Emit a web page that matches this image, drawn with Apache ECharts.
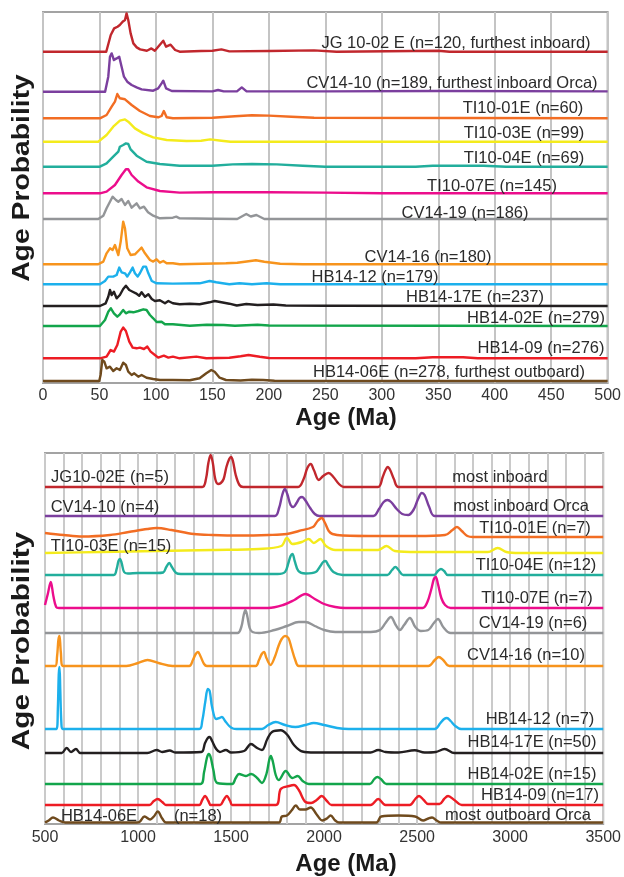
<!DOCTYPE html>
<html>
<head>
<meta charset="utf-8">
<script src="https://cdn.jsdelivr.net/npm/echarts@6/dist/echarts.min.js"></script>
<style>
html,body{margin:0;padding:0;background:#fff;}
#chart{width:624px;height:877px;}
</style>
</head>
<body>
<div id="chart"></div>
<script>
// ---------------- DATA ----------------
// Upper panel (0-500 Ma), relative probability (arbitrary units), [age, value]
const topNames = [
  "JG 10-02 E (n=120, furthest inboard)",
  "CV14-10 (n=189, furthest inboard Orca)",
  "TI10-01E (n=60)",
  "TI10-03E (n=99)",
  "TI10-04E (n=69)",
  "TI10-07E (n=145)",
  "CV14-19 (n=186)",
  "CV14-16 (n=180)",
  "HB14-12 (n=179)",
  "HB14-17E (n=237)",
  "HB14-02E (n=279)",
  "HB14-09 (n=276)",
  "HB14-06E (n=278, furthest outboard)"
];
// vertical stacking offsets (same arbitrary units)
const topOffsets = [331.3, 291.3, 264.7, 241.3, 216.3, 189.7, 164, 118.7, 98.7, 77, 57, 24.7, 2];

const topJG1002E = [[0,0],[56,0],[60,16.7],[63,23.3],[66,25],[68,26.7],[70.5,30],[72.6,31.7],[74,38.3],[75.5,31.7],[77.6,18.3],[80,8.3],[83,4.3],[86,2.3],[92,1],[96,3.3],[99,1],[102,5],[106.5,11],[109,5],[113,7],[117,1.7],[121,0],[140,0.7],[150,1],[158,2.3],[165,0.3],[200,0.7],[240,1.3],[260,0],[350,1],[360,0],[500,0]];
const topCV1410 = [[0,0],[55,0],[57.8,15],[59.3,35],[60.8,38.3],[62.8,31.7],[65.2,33.3],[67.5,35],[69.6,25],[71.7,15],[74.6,10],[78.5,6.7],[82.9,4.3],[87.3,2.3],[97.6,1],[102,3.3],[105,8.3],[106.5,11],[109,3.3],[114,0.7],[150,0.3],[155,1.7],[160,0.3],[172,0.5],[176,4.3],[180,0.5],[250,0.3],[350,0.7],[500,0.3]];
const topTI1001E = [[0,0],[50.4,0],[56.3,3.3],[60.8,11.7],[63.7,16.7],[65.8,24.3],[68.1,20],[72.6,19],[78.5,13.3],[85.8,7.3],[94.7,2.3],[102,1],[105,2.3],[107,7.3],[109.5,1],[115,0],[150,0.5],[170,2],[185,3],[200,2.7],[220,1.5],[240,0.5],[500,0]];
const topTI1003E = [[0,0],[48.9,0],[56.3,6.7],[62.2,15],[68.1,21],[72.6,22.3],[75.5,20],[81.4,13.3],[88.8,8.3],[97.6,4.3],[109.5,1.7],[127,0.7],[140,1],[148,2.3],[158,1],[166,0],[500,0]];
const topTI1004E = [[0,0],[50.4,0],[56.3,3.3],[62.2,10],[66.7,15],[68.1,20],[71,21.7],[73.4,23.3],[75.5,22.7],[77.6,17.3],[82.9,11],[91.7,5],[103.5,2.7],[121,1],[150,1],[168,2.3],[185,2.7],[207,2.3],[230,1],[250,0],[330,0],[345,1],[390,1],[410,0],[500,0]];
const topTI1007E = [[0,0],[50.4,0],[56.3,1.7],[63.7,8.3],[69.6,18.3],[73.4,24],[75.5,24],[78.5,18.3],[84.4,11.7],[91.7,6],[103.5,2.3],[121,0.7],[150,1],[200,1],[250,0.7],[300,0],[500,0]];
const topCV1419 = [[0,0],[48.9,0],[53.4,3.3],[56.3,10.7],[59.3,17.3],[61.6,22.3],[64.6,19],[66.7,17.3],[69.6,20],[72.6,14],[75.5,18],[78.5,11.3],[82.9,15.7],[85.8,10.7],[89.4,12.3],[93,6.7],[97.6,3.3],[103.5,0.7],[115,1.3],[118,2.3],[121,0.7],[150,0.3],[172,0],[180,5],[184,2.5],[189,4],[196,0],[500,0]];
const topCV1416 = [[0,0],[48.9,0],[53.4,2.7],[56.3,11],[59.3,16],[61.6,14.3],[63.7,19.3],[66.7,9.3],[68.8,22.7],[71,42.7],[72.6,36],[74.6,16],[77.6,9.3],[81.4,10],[85.2,14.3],[87.3,16.7],[90.3,11],[94.7,4.3],[97.6,2.7],[100.6,5],[103.5,1.7],[106.5,3.3],[109.5,1],[115,1],[121,0],[162,1],[172,1.5],[182,3],[188.5,4],[196,2.5],[210,0.5],[230,0],[500,0]];
const topHB1412 = [[0,0],[50.4,0],[54.9,3.3],[57.8,7.7],[62.2,7.7],[65.2,9.3],[67.5,16.7],[69.6,12],[72.6,11],[74.6,7.7],[77,12],[79.4,16.7],[81.4,11],[83.8,7.7],[85.8,11],[88.8,17.7],[91.2,17.7],[93.3,11],[96.3,3.3],[100.6,1],[115,0.7],[138.7,1],[147.5,3.3],[153.4,2],[159,1],[165,0],[174,1],[185,0],[198,1],[210,0],[500,0]];
const topHB1417E = [[0,0],[50.4,0],[55.5,2.7],[57.8,9.3],[59.3,16],[60.8,11],[62.8,14.3],[65.2,7.7],[68.1,11],[71,17],[73.4,20.3],[76.4,16],[79.4,14.3],[82.3,12.7],[85.2,10.3],[87.3,13.7],[90.3,9.3],[93.3,11.7],[96.3,7],[99.1,5],[103.5,5.7],[108,2.7],[111,5],[115,2.7],[121,1.7],[130,2.3],[138.7,1.7],[147.5,3.7],[152,5],[158,3.7],[165,2.3],[171.6,0.5],[180,2],[190,1],[204,1.5],[215,0.5],[250,0.3],[500,0]];
const topHB1402E = [[0,0],[50.4,0],[54.9,6],[57.8,14.3],[60.1,17.7],[62.8,12.7],[65.8,9.3],[68.1,11.7],[71,16],[73.4,12.7],[76.4,14.3],[80,13.7],[84.4,15],[88.8,16.7],[91.7,16],[94.7,11],[97.6,7.7],[100.6,4],[105,4.3],[108,1.7],[115,1.7],[130,0.3],[145,1.3],[160,1],[170,0.3],[190,1.3],[200,0.5],[500,0]];
const topHB1409 = [[0,0],[50.4,0],[56.3,1.7],[59.9,8.3],[62.8,6.7],[65.8,13.3],[68.8,26.7],[71,30.7],[73.4,27.3],[76.4,16.7],[79.4,10.7],[82.9,10],[85.8,10.7],[89.4,9.3],[92.4,11.7],[95.3,6.7],[99.1,3.3],[102,0.7],[107,2.7],[111,0.7],[115,1.7],[121,0],[135.8,1.7],[144.6,0],[165,0.5],[175,2],[182,3.3],[192,1.5],[200,0.3],[330,0],[345,1],[372,1],[385,0],[500,0]];
const topHB1406E = [[0,0],[49.8,0],[51,6],[52.5,21],[54.3,19.3],[56.3,12.7],[59.3,14.3],[62.2,10],[65.2,12.7],[68.1,11],[71,18.3],[73.4,16],[75.5,9.3],[78.5,6],[80.8,7.7],[84.4,4.3],[87.3,6],[91.7,3.3],[97.6,2],[103.5,1],[115,1],[130,0.7],[138.7,2.7],[144.6,7.7],[149,11],[152,9.3],[156.4,3.3],[162,1],[175,0.5],[185,1.3],[195,1],[205,0.3],[500,0]];

const topSeries = [topJG1002E, topCV1410, topTI1001E, topTI1003E, topTI1004E, topTI1007E, topCV1419, topCV1416, topHB1412, topHB1417E, topHB1402E, topHB1409, topHB1406E];

// Lower panel (500-3500 Ma)
const botNames = [
  "JG10-02E (n=5)", "CV14-10 (n=4)", "TI10-01E (n=7)", "TI10-03E (n=15)", "TI10-04E (n=12)",
  "TI10-07E (n=7)", "CV14-19 (n=6)", "CV14-16 (n=10)", "HB14-12 (n=7)", "HB14-17E (n=50)",
  "HB14-02E (n=15)", "HB14-09 (n=17)", "HB14-06E", "(n=18)",
  "most inboard", "most inboard Orca", "most outboard Orca"
];
const botOffsets = [337, 308, 287, 271, 249, 216, 191, 158, 95, 71, 40, 19, 1.5];

const botJG1002E = [[500,0],[1345,0],[1365,8],[1378,24],[1390,32],[1402,24],[1415,8],[1430,3],[1445,4],[1460,8],[1475,20],[1490,28],[1500,30],[1510,26],[1525,12],[1545,2],[1565,0],[1860,0],[1890,8],[1910,19],[1928,23],[1945,17],[1972,7],[1995,11],[2024,14],[2050,10],[2080,3],[2105,0],[2290,0],[2315,10],[2330,17],[2342,20],[2355,17],[2375,8],[2400,0],[3500,0]];
const botCV1410 = [[500,0],[1735,0],[1758,8],[1775,21],[1789,27],[1802,22],[1820,11],[1835,9],[1852,13],[1868,18],[1882,19],[1898,16],[1925,8],[1950,2],[1975,0],[2265,0],[2295,7],[2320,14],[2340,16],[2360,14],[2390,7],[2420,2],[2452,1],[2480,6],[2505,17],[2525,23],[2540,21],[2565,9],[2594,0],[3500,0]];
const botTI1001E = [[500,4],[600,2],[700,0.5],[850,2],[950,5],[1050,8],[1100,9],[1180,7],[1300,3],[1400,2],[1550,1.5],[1700,2],[1800,3],[1864,6],[1940,10],[1965,16],[1987,19],[2005,14],[2025,6],[2045,3],[2100,1.5],[2300,1],[2500,1],[2650,2],[2690,7],[2714,10],[2740,6],[2770,1],[2800,0],[3500,0]];
const botTI1003E = [[500,0],[800,1],[1100,2],[1400,3],[1650,4],[1770,7],[1800,15],[1830,9],[1880,11],[1917,14],[1945,10],[1980,14],[2010,7],[2060,3],[2200,3],[2290,3],[2335,7],[2380,2],[2500,1],[2880,1],[2933,5],[2980,1],[3050,0],[3500,0]];
const botTI1004E = [[500,0],[870,0],[885,6],[895,14],[903,16],[912,12],[925,3],[945,1.5],[1000,2],[1100,2],[1135,2.5],[1152,8],[1168,12],[1182,8],[1205,2],[1230,1],[1500,1],[1750,1],[1790,3],[1808,12],[1820,19],[1830,21],[1842,14],[1862,4],[1900,1.5],[1955,3],[1980,9],[1995,13],[2008,14],[2022,10],[2050,3],[2100,0],[2340,0],[2365,5],[2383,8],[2400,5],[2425,0],[2590,0],[2612,4],[2628,6],[2645,4],[2665,0],[3500,0]];
const botTI1007E = [[500,3],[515,14],[531,26],[545,12],[560,1],[575,0],[1700,0],[1780,3],[1840,8],[1900,14],[1950,9],[2000,4],[2060,1],[2113,0],[2530,0],[2555,6],[2575,18],[2590,29],[2600,31],[2612,24],[2630,10],[2650,3],[2680,0],[3500,0]];
const botCV1419 = [[500,0],[1535,0],[1555,6],[1568,18],[1577,23],[1587,17],[1600,5],[1615,1],[1650,0],[1734,3],[1800,7],[1864,11],[1900,11],[1950,7],[2000,3],[2060,1],[2250,1],[2300,3],[2330,10],[2359,16],[2385,8],[2407,3],[2430,8],[2461,15],[2490,6],[2520,2],[2560,3],[2590,10],[2612,14],[2640,6],[2680,0],[3500,0]];
const botCV1416 = [[500,0],[555,0],[565,10],[572,26],[578,30],[585,14],[597,0],[937,0],[1000,3],[1051,6],[1110,3],[1185,0],[1275,0],[1295,6],[1310,12],[1322,14],[1335,10],[1355,2],[1370,0],[1632,0],[1650,6],[1665,12],[1677,14],[1690,8],[1712,1],[1735,9],[1755,20],[1772,27],[1790,30],[1808,28],[1825,18],[1845,6],[1864,0],[2560,0],[2595,6],[2616,9],[2640,6],[2673,0],[3500,0]];
const botHB1412 = [[500,0],[562,0],[569,20],[574,55],[578,62],[582,40],[588,6],[595,0],[1329,0],[1345,8],[1362,28],[1375,40],[1385,38],[1398,22],[1420,10],[1438,11],[1451,12],[1468,8],[1490,3],[1510,0.5],[1530,0],[1666,0],[1700,4],[1740,7],[1790,4],[1846,2],[1900,4],[1944,6],[2000,4],[2070,1],[2131,0],[2594,0],[2625,6],[2645,10],[2660,11],[2680,8],[2705,3],[2736,0],[3500,0]];
const botHB1417E = [[500,0],[590,0],[616,5],[640,1],[666,4],[690,0],[1050,0],[1100,3],[1130,1],[1170,2.5],[1200,0.5],[1340,1],[1360,10],[1375,15],[1385,16],[1398,12],[1420,4],[1440,1],[1472,3],[1500,0.5],[1570,2],[1607,9],[1640,5],[1666,3],[1695,14],[1720,21],[1767,22.7],[1803,18],[1838,8],[1883,1.5],[1950,0.5],[2250,0.5],[2291,3],[2330,1],[2400,0.5],[2487,2.7],[2540,0.5],[2600,1],[2648,4],[2700,0],[3500,0]];
const botHB1402E = [[500,0],[1335,0],[1355,12],[1370,26],[1380,30],[1390,27],[1405,14],[1426,1],[1506,0],[1525,6],[1543,10],[1578,8],[1608,10],[1640,6],[1666,1],[1690,10],[1705,24],[1714,28],[1725,22],[1740,9],[1756,4],[1794,13],[1830,6],[1858,8],[1885,3],[1917,0],[2246,0],[2270,5],[2286,7],[2305,5],[2335,0],[3500,0]];
const botHB1409 = [[500,0],[1061,0],[1085,4],[1106,6],[1130,3],[1150,0],[1329,0],[1345,5],[1360,9],[1378,4],[1391,0],[1441,0],[1460,5],[1477,9],[1495,4],[1506,0],[1740,0],[1767,16],[1812,19],[1838,20],[1864,15],[1900,3],[1930,2],[1960,5],[1987,9],[2015,4],[2040,0],[2250,0],[2291,6],[2330,0],[2460,0],[2490,6],[2510,9],[2535,5],[2560,1],[2620,1],[2645,6],[2666,9],[2700,5],[2740,0],[3500,0]];
const botHB1406E = [[500,0],[520,2],[543,5],[575,2],[607,0],[1000,0],[1035,6],[1065,3],[1085,6],[1106,11],[1130,4],[1150,0],[1757,0],[1773,6],[1800,7],[1825,12],[1848,17],[1870,13],[1900,13],[1928,15],[1960,8],[1990,2],[2015,4],[2035,7],[2060,2],[2080,0],[2281,0],[2307,6],[2400,7],[2489,6],[2532,2],[2560,4],[2580,5],[2605,2],[2630,0],[3500,0]];

const botSeries = [botJG1002E, botCV1410, botTI1001E, botTI1003E, botTI1004E, botTI1007E, botCV1419, botCV1416, botHB1412, botHB1417E, botHB1402E, botHB1409, botHB1406E];

// Axis tick values
const topTicks = [0, 50, 100, 150, 200, 250, 300, 350, 400, 450, 500];
const botTicks = [500, 1000, 1500, 2000, 2500, 3000, 3500];
const axisTitleX = "Age (Ma)";
const axisTitleY = "Age Probability";

// ---------------- STYLE / LAYOUT ----------------
const colors = ["#c1272d", "#7b3f9e", "#f26d23", "#f4eb1c", "#22ae9c", "#ec0d8c", "#939598", "#f7941d", "#1cb0ec", "#231f20", "#13a54b", "#ed1c24", "#6f4a1d"];
const FONT = '"Liberation Sans", Arial, sans-serif';
const LABEL_FONT = '16.5px ' + FONT;

// label layout (pixel positions for text annotations)
const topLabelPos = [[456,43],[452,83],[523,108],[524,133],[524,158],[492,186],[465,213],[428,257],[375,277],[475,297],[536,318],[541,348],[449,372]];
const botLabelPos = [[110,477],[105,507],[535,528],[111,546],[536,565],[537,598],[533,623],[526,655],[540,719],[532,742],[532,774],[540,795],[99,816],[198,816],[500,477],[521,506],[518,815]];

const chart = echarts.init(document.getElementById('chart'), null, {renderer: 'canvas'});

const gridTop = {left: 43, top: 12, width: 565, height: 371, show: true, borderColor: '#a3a3a3', borderWidth: 2, z: 0};
const gridBot = {left: 45, top: 453, width: 561, height: 371, show: true, borderColor: '#a3a3a3', borderWidth: 2, z: 0};

const series = [];
topSeries.forEach((arr, i) => {
  series.push({
    type: 'line', xAxisIndex: 0, yAxisIndex: 0, name: topNames[i],
    data: arr.map(p => [p[0], p[1] + topOffsets[i]]),
    showSymbol: false, symbol: 'none', smooth: false,
    lineStyle: {color: colors[i], width: 2.4, join: 'round'},
    silent: true, z: 3
  });
});
botSeries.forEach((arr, i) => {
  series.push({
    type: 'line', xAxisIndex: 1, yAxisIndex: 1, name: botNames[i],
    data: arr.map(p => [p[0], p[1] + botOffsets[i]]),
    showSymbol: false, symbol: 'none', smooth: 0.35,
    lineStyle: {color: colors[i], width: 2.4, join: 'round'},
    silent: true, z: 3
  });
});

const graphics = [];
topNames.forEach((t, i) => {
  graphics.push({type: 'text', x: topLabelPos[i][0], y: topLabelPos[i][1], z: 10,
    style: {text: t, font: LABEL_FONT, fill: '#2b2b2b', textAlign: 'center', textVerticalAlign: 'middle'}});
});
botNames.forEach((t, i) => {
  graphics.push({type: 'text', x: botLabelPos[i][0], y: botLabelPos[i][1], z: 10,
    style: {text: t, font: LABEL_FONT, fill: '#2b2b2b', textAlign: 'center', textVerticalAlign: 'middle'}});
});
// axis titles
[[346, 418], [346, 864]].forEach(p => {
  graphics.push({type: 'text', x: p[0], y: p[1], z: 10,
    style: {text: axisTitleX, font: 'bold 24px ' + FONT, fill: '#1a1a1a', textAlign: 'center', textVerticalAlign: 'middle'}});
});
[[22, 178, 1.18], [22, 641, 1.24]].forEach(p => {
  graphics.push({type: 'text', x: p[0], y: p[1], rotation: Math.PI / 2, scaleX: p[2], scaleY: 1, z: 10,
    style: {text: axisTitleY, font: 'bold 24px ' + FONT, fill: '#1a1a1a', textAlign: 'center', textVerticalAlign: 'middle'}});
});

const fmt = v => String(v);
const option = {
  animation: false,
  backgroundColor: '#ffffff',
  grid: [gridTop, gridBot],
  xAxis: [
    {type: 'value', gridIndex: 0, min: topTicks[0], max: topTicks[topTicks.length - 1], interval: 50,
     axisLine: {show: false}, axisTick: {show: false},
     axisLabel: {fontSize: 16, color: '#333', fontFamily: FONT, margin: 5, formatter: fmt, showMaxLabel: true, showMinLabel: true},
     splitLine: {show: true, lineStyle: {color: '#c4c4c4', width: 2}}},
    {type: 'value', gridIndex: 1, min: botTicks[0], max: botTicks[botTicks.length - 1], interval: 500,
     axisLine: {show: false}, axisTick: {show: false},
     axisLabel: {fontSize: 16, color: '#333', fontFamily: FONT, margin: 6, formatter: fmt, showMaxLabel: true, showMinLabel: true},
     splitLine: {show: true, lineStyle: {color: '#cacaca', width: 2}},
     minorTick: {show: false, splitNumber: 5},
     minorSplitLine: {show: true, lineStyle: {color: '#cacaca', width: 2}}}
  ],
  yAxis: [
    {type: 'value', gridIndex: 0, min: 0, max: 371, show: false, splitLine: {show: false}},
    {type: 'value', gridIndex: 1, min: 0, max: 371, show: false, splitLine: {show: false}}
  ],
  series: series,
  graphic: graphics
};
chart.setOption(option);
</script>
</body>
</html>
